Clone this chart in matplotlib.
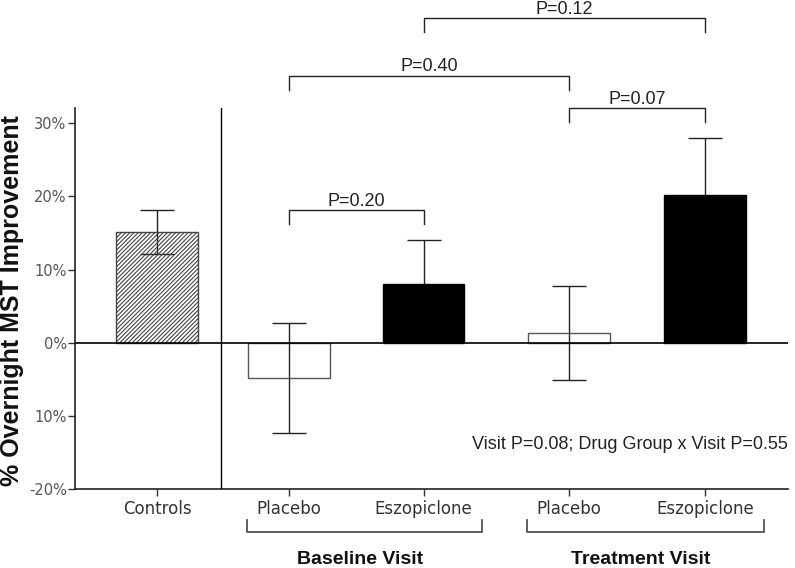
"""
Overnight MST improvement: controls vs placebo/eszopiclone at baseline and treatment visits.
"""

import matplotlib
matplotlib.use("Agg")
import matplotlib.pyplot as plt

# --- data ---
GROUP_LABELS = ["Controls", "Placebo", "Eszopiclone", "Placebo", "Eszopiclone"]
MEANS = [15.1, -4.8, 8.1, 1.3, 20.2]
ERRORS = [3.0, 7.5, 5.9, 6.45, 7.8]
Y_TICKS = [-20, -10, 0, 10, 20, 30]
Y_TICK_LABELS = ["-20%", "10%", "0%", "10%", "20%", "30%"]

# (left bar index, right bar index, label, bracket height in %)
COMPARISONS = [
    (1, 2, "P=0.20", 18.1),
    (1, 3, "P=0.40", 36.5),
    (3, 4, "P=0.07", 32.1),
    (2, 4, "P=0.12", 44.4),
]
VISIT_GROUPS = [("Baseline Visit", 1, 2), ("Treatment Visit", 3, 4)]
STATS_NOTE = "Visit P=0.08; Drug Group x Visit P=0.55"

# --- layout ---
X_POS = [0, 0.97, 1.96, 3.03, 4.03]
BAR_WIDTH = 0.6
DIVIDER_X = 0.468
SANS = ["Liberation Sans", "DejaVu Sans"]


def draw():
    plt.rcParams["hatch.linewidth"] = 0.8
    fig = plt.figure(figsize=(7.95, 5.68), dpi=100)
    ax = fig.add_axes([75 / 795, 1 - 489 / 568, 713 / 795, 381 / 568])

    # error bars sit under the bars: black bars hide the lower half,
    # open/hatched bars let the whole whisker show through
    ax.errorbar(X_POS, MEANS, yerr=ERRORS, fmt="none", ecolor="#222222",
                elinewidth=1.0, capsize=12, capthick=1.0, zorder=1)

    face = ["none", "none", "black", "none", "black"]
    edge = ["#444444", "#555555", "black", "#555555", "black"]
    hatch = ["////////", None, None, None, None]
    for x, m, fc, ec, h in zip(X_POS, MEANS, face, edge, hatch):
        ax.bar(x, m, width=BAR_WIDTH, color=fc, edgecolor=ec,
               linewidth=1.0, hatch=h, zorder=2)

    ax.axhline(0, color="black", linewidth=1.2, zorder=4)
    ax.axvline(DIVIDER_X, color="black", linewidth=1.0, zorder=4)

    ax.set_xlim(-0.603, 4.64)
    ax.set_ylim(-20, 32.1)

    ax.set_yticks(Y_TICKS)
    ax.set_yticklabels(Y_TICK_LABELS, fontsize=10.5, color="#555555",
                       family="DejaVu Sans")
    ax.set_xticks(X_POS)
    ax.set_xticklabels(GROUP_LABELS, fontsize=12, color="#333333",
                       family="DejaVu Sans")
    ax.tick_params(axis="y", length=5, width=1, pad=1, color="#333333")
    ax.tick_params(axis="x", length=5, width=1, pad=3, color="#333333")

    for side in ("top", "right"):
        ax.spines[side].set_visible(False)
    for side in ("left", "bottom"):
        ax.spines[side].set_linewidth(1.2)
        ax.spines[side].set_color("#222222")

    # significance brackets above bars
    drop = 1.9
    for i, j, label, h in COMPARISONS:
        x1, x2 = X_POS[i], X_POS[j]
        ax.plot([x1, x1, x2, x2], [h - drop, h, h, h - drop],
                color="#222222", linewidth=1.0, clip_on=False)
        ax.text((x1 + x2) / 2, h + 0.6, label, ha="center", va="baseline",
                fontsize=13, family=SANS, color="#222222")

    # visit brackets below x labels
    for label, i, j in VISIT_GROUPS:
        x1 = X_POS[i] - 0.31
        x2 = X_POS[j] + 0.43
        ax.plot([x1, x1, x2, x2], [-24.2, -25.9, -25.9, -24.2],
                color="#444444", linewidth=1.2, clip_on=False)
        ax.text((x1 + x2) / 2 - 0.03, -29.7, label, ha="center", va="center",
                fontsize=14, fontweight="bold", family=SANS, color="#111111")

    ax.text(4.64, -13.9, STATS_NOTE, ha="right", va="center",
            fontsize=13, family=SANS, color="#222222")

    fig.text(12 / 795, 1 - 301 / 568, "% Overnight MST Improvement",
             rotation=90, ha="center", va="center", fontsize=18,
             fontweight="bold", family=SANS, color="#111111")

    fig.savefig("out.png", dpi=100)
    plt.close(fig)


if __name__ == "__main__":
    draw()
